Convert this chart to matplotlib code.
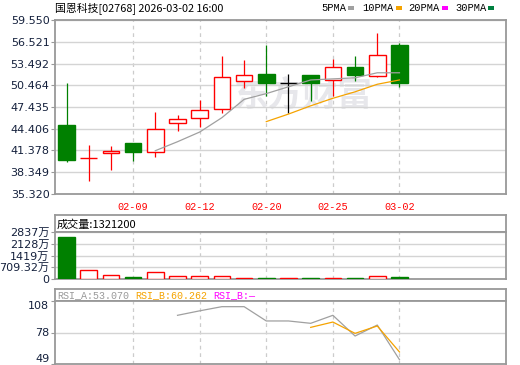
import numpy as np
import matplotlib.pyplot as plt
from matplotlib.patches import Rectangle

# daily candles
dates = ['02-04', '02-05', '02-06', '02-09', '02-10', '02-11', '02-12', '02-13',
         '02-16', '02-20', '02-23', '02-24', '02-25', '02-26', '02-27', '03-02']
opens = [44.93, 40.29, 40.99, 42.42, 41.21, 45.17, 45.86, 47.16,
         51.06, 52.03, 50.73, 51.85, 51.19, 53.00, 51.75, 56.07]
closes = [40.10, 40.29, 41.31, 41.21, 44.33, 45.72, 46.97, 51.57,
          51.85, 50.82, 50.73, 50.82, 52.96, 51.85, 54.68, 50.82]
highs = [50.82, 42.14, 42.00, 42.42, 46.74, 46.32, 48.45, 54.54,
         53.98, 56.07, 52.03, 51.95, 54.12, 54.54, 57.74, 56.31]
lows = [39.82, 37.17, 38.66, 39.92, 40.43, 44.13, 44.61, 46.56,
        50.12, 49.01, 46.56, 48.31, 48.97, 51.10, 51.65, 50.18]

# moving averages (first index where each line starts)
ma5_start = 4
ma5 = [41.35, 42.6, 43.95, 45.95, 48.5, 49.3, 50.25, 51.2, 51.35, 51.5, 52.2, 52.2]
ma10_start = 9
ma10 = [45.4, 46.45, 47.6, 48.65, 49.55, 50.6, 51.2]

# volume in 万
volumes = [2553, 543, 223, 121, 423, 163, 163, 160, 60, 60, 60, 55, 65, 60, 163, 132.12]
vol_ticks = [0, 709.32, 1418.64, 2127.96, 2837.28]
vol_tick_labels = ['0', '709.32万', '1419万', '2128万', '2837万']

# RSI
rsi_a_start = 5
rsi_a = [94.6, 98.8, 102.7, 102.7, 89.3, 89.3, 87.1, 94.6, 75.2, 85.5, 53.07]
rsi_b_start = 11
rsi_b = [83.3, 88.3, 77.7, 84.6, 60.26]
rsi_ticks = [49.0, 78.5, 108.0]
rsi_tick_labels = ['49', '78', '108']

price_ticks = [35.320, 38.349, 41.378, 44.406, 47.435, 50.464, 53.492, 56.521, 59.550]
date_tick_idx = [3, 6, 9, 12, 15]

RED = '#ff0000'
GREEN = '#008000'
GRAY_MA = '#a0a0a0'
ORANGE = '#f5a300'
BORDER = '#999999'
GRID = '#d4d4d4'
TICKCOL = '#14203c'
W, H = 520, 365

fig = plt.figure(figsize=(W / 100, H / 100), dpi=100)


def box(top, bottom):
    return [55 / W, 1 - bottom / H, 451 / W, (bottom - top) / H]


ax = fig.add_axes(box(20, 194))
ax_vh = fig.add_axes(box(215, 232))
ax_vol = fig.add_axes(box(232, 279))
ax_rh = fig.add_axes(box(289, 301))
ax_rsi = fig.add_axes(box(301, 364))

x = np.arange(len(dates))
xlim = (-0.52, 19.8)

for a in [ax, ax_vh, ax_vol, ax_rh, ax_rsi]:
    for s in a.spines.values():
        s.set_color(BORDER)
        s.set_linewidth(1.3)
    a.set_xlim(*xlim)
    a.set_axisbelow(True)
    a.tick_params(axis='y', length=3, color=BORDER, labelsize=8, labelcolor=TICKCOL, pad=1)
    a.tick_params(axis='x', length=0)

for a in [ax_vh, ax_rh]:
    a.set_xticks([])
    a.set_yticks([])

for a in [ax, ax_vol, ax_rsi]:
    for i in date_tick_idx:
        a.axvline(i, color='#cccccc', lw=0.9, ls=(0, (3, 3)), zorder=0)

# candle colours
colors = []
for i in range(len(dates)):
    if closes[i] > opens[i]:
        colors.append(RED)
    elif closes[i] < opens[i]:
        colors.append(GREEN)
    elif i > 0 and closes[i] > closes[i - 1]:
        colors.append(RED)
    else:
        colors.append('black')

# ---- price panel ----
ax.set_ylim(price_ticks[0], price_ticks[-1])
ax.set_yticks(price_ticks)
ax.set_yticklabels(['%.3f' % t for t in price_ticks])
ax.yaxis.grid(True, color=GRID, lw=1.0)
ax.set_xticks(date_tick_idx)
ax.set_xticklabels([dates[i] for i in date_tick_idx], family='Liberation Mono',
                   fontsize=7.3, color=RED)
ax.tick_params(axis='x', pad=6)

ax.text(0.55, 0.57, '东方财富', transform=ax.transAxes, ha='center', va='center',
        fontsize=25, fontweight='bold', color='#e7e7eb', family='Noto Sans CJK SC',
        zorder=0.5)

ax.vlines(x, lows, highs, colors=colors, lw=0.9, zorder=2)
for i in range(len(dates)):
    lo, hi = min(opens[i], closes[i]), max(opens[i], closes[i])
    if hi - lo < 1e-9:
        ax.hlines(closes[i], i - 0.375, i + 0.375, colors=colors[i], lw=1.0, zorder=3)
    else:
        face = 'white' if colors[i] == RED else GREEN
        ax.bar(i, hi - lo, bottom=lo, width=0.75, facecolor=face,
               edgecolor=colors[i], linewidth=1.0, zorder=3)

ax.plot(x[ma5_start:ma5_start + len(ma5)], ma5, color=GRAY_MA, lw=0.9, zorder=4)
ax.plot(x[ma10_start:ma10_start + len(ma10)], ma10, color=ORANGE, lw=0.9, zorder=4)

# ---- volume panel ----
ax_vol.set_ylim(vol_ticks[0], vol_ticks[-1])
ax_vol.set_yticks(vol_ticks)
ax_vol.set_yticklabels(vol_tick_labels, family=['DejaVu Sans', 'Noto Sans CJK SC'])
ax_vol.yaxis.grid(True, color=GRID, lw=1.0)
ax_vol.set_xticks([])
for i in range(len(dates)):
    down = colors[i] == GREEN
    ax_vol.bar(i, volumes[i], width=0.75, facecolor=GREEN if down else 'white',
               edgecolor=GREEN if down else RED, linewidth=1.0, zorder=3)
ax_vh.text(0.004, 0.45, '成交量:1321200', transform=ax_vh.transAxes, ha='left', va='center',
           fontsize=8, family='Noto Sans CJK SC', color='black')

# ---- RSI panel ----
ax_rsi.set_ylim(rsi_ticks[0], rsi_ticks[-1])
ax_rsi.set_yticks(rsi_ticks)
ax_rsi.set_yticklabels(rsi_tick_labels)
ax_rsi.get_yticklabels()[0].set_va('bottom')
ax_rsi.get_yticklabels()[-1].set_va('top')
ax_rsi.axhline(rsi_ticks[1], color=GRID, lw=1.0, zorder=0)
ax_rsi.set_xticks([])
ax_rsi.plot(x[rsi_a_start:rsi_a_start + len(rsi_a)], rsi_a, color=GRAY_MA, lw=0.9)
ax_rsi.plot(x[rsi_b_start:rsi_b_start + len(rsi_b)], rsi_b, color=ORANGE, lw=0.9)

for px, txt, col in [(57, 'RSI_A:53.070', '#999999'), (135.5, 'RSI_B:60.262', ORANGE),
                     (213.5, 'RSI_B:—', '#ff00ff')]:
    fig.text(px / W, 1 - 295.5 / H, txt, ha='left', va='center', fontsize=7.2,
             family=['Liberation Mono', 'DejaVu Sans'], color=col)

# ---- title and MA legend ----
fig.text(55 / W, 1 - 8 / H, '国恩科技[02768] 2026-03-02 16:00', ha='left', va='center',
         fontsize=7.8, family='Noto Sans CJK SC', color='black')

for px, txt, col, sx in [(321, '5PMA', '#a0a0a0', 348), (362, '10PMA', ORANGE, 396),
                         (408, '20PMA', '#ff00ff', 442), (455, '30PMA', '#008040', 488)]:
    fig.text(px / W, 1 - 8 / H, txt, ha='left', va='center', fontsize=7.5,
             family='Liberation Mono', color='black')
    fig.patches.append(Rectangle((sx / W, 1 - 10 / H), 6 / W, 4 / H, transform=fig.transFigure,
                                 facecolor=col, edgecolor='none'))

fig.savefig('out.png', dpi=100)
